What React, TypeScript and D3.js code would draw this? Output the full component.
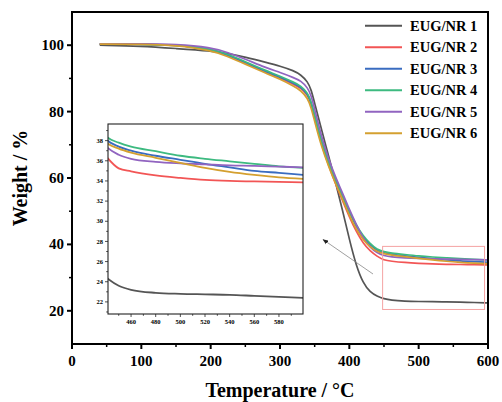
import React from "react";
import * as d3 from "d3";

const temps = [40, 100, 150, 200, 225, 250, 280, 300, 320, 330, 340, 345, 350, 360, 370, 380, 390, 400, 410, 420, 430, 440, 450, 460, 480, 500, 520, 540, 560, 580, 600];

const eug1 = [100, 99.7, 99.0, 98.3, 97.5, 96.4, 94.8, 93.7, 92.3, 91.1, 89.0, 86.6, 82.5, 74.5, 66.7, 58.8, 50.5, 41.5, 33.5, 28.3, 25.6, 24.4, 23.6, 23.2, 22.9, 22.8, 22.75, 22.7, 22.6, 22.5, 22.4];
const eug2 = [100.3, 100.3, 100.1, 98.8, 97.0, 94.6, 91.8, 90.2, 88.2, 87.1, 85.0, 82.3, 78.0, 70.0, 63.8, 58.3, 53.3, 48.3, 43.8, 40.3, 38.0, 36.4, 35.25, 34.95, 34.55, 34.3, 34.1, 34.0, 33.95, 33.9, 33.85];
const eug3 = [100.3, 100.3, 100.1, 98.9, 97.1, 94.8, 92.0, 90.4, 88.5, 87.4, 85.3, 82.6, 78.5, 70.6, 64.5, 59.2, 54.5, 49.6, 45.4, 42.1, 39.8, 38.1, 37.4, 37.0, 36.5, 36.1, 35.7, 35.35, 35.0, 34.8, 34.6];
const eug4 = [100.3, 100.3, 100.1, 99.0, 97.3, 95.0, 92.3, 90.7, 88.8, 87.8, 85.6, 83.0, 79.0, 70.8, 64.8, 59.5, 54.9, 50.0, 45.8, 42.5, 40.2, 38.4, 37.8, 37.4, 36.95, 36.5, 36.2, 35.95, 35.7, 35.45, 35.3];
const eug5 = [100.4, 100.4, 100.3, 99.4, 97.8, 95.8, 93.2, 91.8, 90.2, 89.3, 87.2, 84.8, 80.8, 72.3, 65.8, 60.3, 55.6, 50.5, 46.0, 41.8, 39.1, 37.4, 36.6, 36.2, 35.9, 35.75, 35.65, 35.55, 35.5, 35.42, 35.35];
const eug6 = [100.3, 100.3, 100.0, 98.5, 96.6, 94.3, 91.5, 89.8, 87.6, 86.4, 84.0, 81.2, 77.0, 69.3, 63.6, 58.3, 53.7, 48.7, 44.5, 41.3, 39.2, 37.8, 37.2, 36.8, 36.3, 35.8, 35.3, 34.9, 34.6, 34.35, 34.2];

const names = ["EUG/NR 1", "EUG/NR 2", "EUG/NR 3", "EUG/NR 4", "EUG/NR 5", "EUG/NR 6"];
const colors = ["#555555", "#f25555", "#3a6cc0", "#3dba80", "#9164c0", "#d4a030"];
const seriesValues = [eug1, eug2, eug3, eug4, eug5, eug6];

const xTicks = [0, 100, 200, 300, 400, 500, 600];
const yTicks = [20, 40, 60, 80, 100];
const insetXTicks = [460, 480, 500, 520, 540, 560, 580];
const insetYTicks = [22, 24, 26, 28, 30, 32, 34, 36, 38];

const font = "'Liberation Serif', 'Times New Roman', serif";

export default function App() {
  const W = 502, H = 402;
  const m = { left: 72, right: 488, top: 12, bottom: 344 };

  const x = d3.scaleLinear().domain([0, 600]).range([m.left, m.right]);
  const y = d3.scaleLinear().domain([10, 110]).range([m.bottom, m.top]);

  const ins = { left: 108, right: 303, top: 124, bottom: 314 };
  const ix = d3.scaleLinear().domain([441.3, 599.5]).range([ins.left, ins.right]);
  const iy = d3.scaleLinear().domain([20.8, 39.65]).range([ins.bottom, ins.top]);

  const series = seriesValues.map((vals, i) => ({
    name: names[i],
    color: colors[i],
    points: temps.map((t, j) => ({ t, w: vals[j] })),
  }));

  const mainLine = d3.line<{ t: number; w: number }>()
    .x(d => x(d.t)).y(d => y(d.w)).curve(d3.curveBasis);
  const insetLine = d3.line<{ t: number; w: number }>()
    .x(d => ix(d.t)).y(d => iy(d.w)).curve(d3.curveMonotoneX);

  const xMinor = d3.range(50, 600, 100);
  const yMinor = d3.range(30, 110, 20);
  const ixMinor = d3.range(450, 600, 20);
  const iyMinor = d3.range(21, 40, 2);

  // zoom box on the main chart
  const box = { t0: 448, t1: 595, w0: 20.4, w1: 39.4 };

  return (
    <svg width={W} height={H} style={{ position: "fixed", left: 0, top: 0, background: "#fff" }} fontFamily={font}>
      <defs>
        <clipPath id="mainClip">
          <rect x={m.left} y={m.top} width={m.right - m.left} height={m.bottom - m.top} />
        </clipPath>
        <clipPath id="insetClip">
          <rect x={ins.left} y={ins.top} width={ins.right - ins.left} height={ins.bottom - ins.top} />
        </clipPath>
        <marker id="arrowHead" viewBox="0 0 10 10" refX="9" refY="5" markerWidth="7" markerHeight="7" orient="auto">
          <path d="M0,1 L10,5 L0,9 Z" fill="#222" />
        </marker>
      </defs>

      {/* main lines */}
      <g clipPath="url(#mainClip)">
        {series.map(s => (
          <path key={s.name} d={mainLine(s.points) || ""} fill="none" stroke={s.color} strokeWidth={1.7} />
        ))}
      </g>

      {/* zoom rectangle */}
      <rect x={x(box.t0)} y={y(box.w1)} width={x(box.t1) - x(box.t0)} height={y(box.w0) - y(box.w1)}
        fill="none" stroke="#f4a3a3" strokeWidth={1} />

      {/* arrow */}
      <line x1={373} y1={274} x2={323} y2={239.5} stroke="#888" strokeWidth={0.8} markerEnd="url(#arrowHead)" />

      {/* inset */}
      <rect x={ins.left} y={ins.top} width={ins.right - ins.left} height={ins.bottom - ins.top} fill="#fff" />
      <g clipPath="url(#insetClip)">
        {series.map(s => (
          <path key={s.name} d={insetLine(s.points) || ""} fill="none" stroke={s.color} strokeWidth={1.8} />
        ))}
      </g>
      <rect x={ins.left} y={ins.top} width={ins.right - ins.left} height={ins.bottom - ins.top}
        fill="none" stroke="#222" strokeWidth={1.1} />
      {insetXTicks.map(t => (
        <g key={t}>
          <line x1={ix(t)} x2={ix(t)} y1={ins.bottom} y2={ins.bottom + 3} stroke="#222" strokeWidth={0.8} />
          <text x={ix(t)} y={ins.bottom + 10} fontSize={6.5} fontWeight="bold" textAnchor="middle">{t}</text>
        </g>
      ))}
      {ixMinor.map(t => (
        <line key={t} x1={ix(t)} x2={ix(t)} y1={ins.bottom} y2={ins.bottom + 1.8} stroke="#222" strokeWidth={0.8} />
      ))}
      {insetYTicks.map(v => (
        <g key={v}>
          <line x1={ins.left} x2={ins.left - 3} y1={iy(v)} y2={iy(v)} stroke="#222" strokeWidth={0.8} />
          <text x={ins.left - 5} y={iy(v) + 2.2} fontSize={6.5} fontWeight="bold" textAnchor="end">{v}</text>
        </g>
      ))}
      {iyMinor.map(v => (
        <line key={v} x1={ins.left} x2={ins.left - 1.8} y1={iy(v)} y2={iy(v)} stroke="#222" strokeWidth={0.8} />
      ))}

      {/* main frame */}
      <rect x={m.left} y={m.top} width={m.right - m.left} height={m.bottom - m.top} fill="none" stroke="#000" strokeWidth={2} />

      {/* x axis */}
      {xTicks.map(t => (
        <g key={t}>
          <line x1={x(t)} x2={x(t)} y1={m.bottom} y2={m.bottom + 5} stroke="#000" strokeWidth={2} />
          <text x={x(t)} y={m.bottom + 22} fontSize={15} fontWeight="bold" textAnchor="middle">{t}</text>
        </g>
      ))}
      {xMinor.map(t => (
        <line key={t} x1={x(t)} x2={x(t)} y1={m.bottom} y2={m.bottom + 3} stroke="#000" strokeWidth={1.5} />
      ))}

      {/* y axis */}
      {yTicks.map(v => (
        <g key={v}>
          <line x1={m.left} x2={m.left - 5} y1={y(v)} y2={y(v)} stroke="#000" strokeWidth={2} />
          <text x={m.left - 8} y={y(v) + 5} fontSize={15} fontWeight="bold" textAnchor="end">{v}</text>
        </g>
      ))}
      {yMinor.map(v => (
        <line key={v} x1={m.left} x2={m.left - 3} y1={y(v)} y2={y(v)} stroke="#000" strokeWidth={1.5} />
      ))}

      {/* axis titles */}
      <text x={(m.left + m.right) / 2} y={397} fontSize={20} fontWeight="bold" textAnchor="middle">Temperature / °C</text>
      <text transform={`translate(27,${(m.top + m.bottom) / 2}) rotate(-90)`} fontSize={20} fontWeight="bold" textAnchor="middle">Weight / %</text>

      {/* legend */}
      {series.map((s, i) => (
        <g key={s.name} transform={`translate(365,${25.7 + i * 21.5})`}>
          <line x1={0} x2={37} y1={0} y2={0} stroke={s.color} strokeWidth={2} />
          <text x={45} y={5} fontSize={14.5} fontWeight="bold">{s.name}</text>
        </g>
      ))}
    </svg>
  );
}
